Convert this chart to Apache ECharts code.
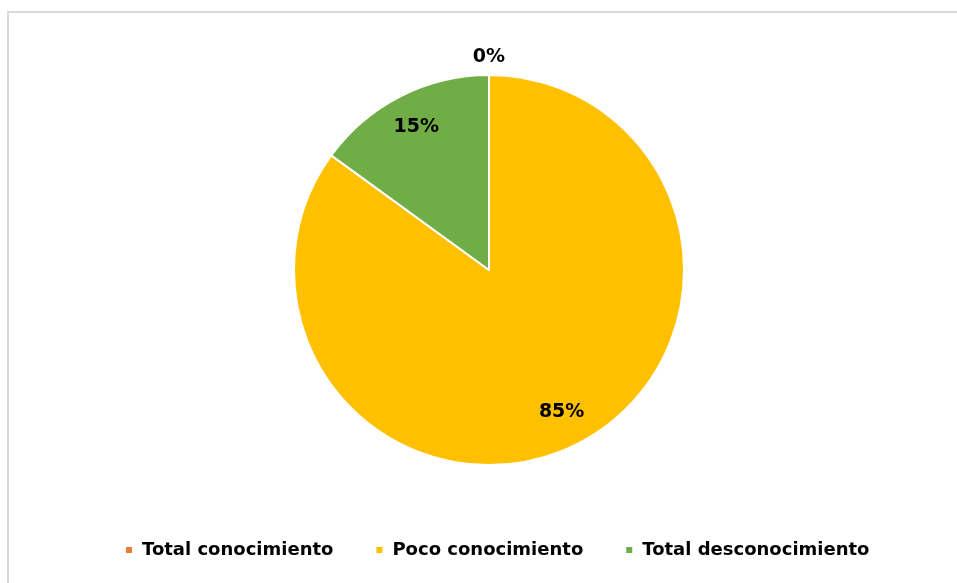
<!DOCTYPE html>
<html>
<head>
<meta charset="utf-8">
<script src="https://cdn.jsdelivr.net/npm/echarts@6/dist/echarts.min.js"></script>
<style>
  html, body { margin: 0; padding: 0; background: #fff; }
  #chart { width: 957px; height: 583px; }
</style>
</head>
<body>
<div id="chart"></div>
<script>
// Nivel de conocimiento (porcentajes)
const categories = ['Total conocimiento', 'Poco conocimiento', 'Total desconocimiento'];
const values = [0, 85, 15];
const colors = ['#ED7D31', '#FFC000', '#70AD47'];

const FONT = '"DejaVu Sans", "Liberation Sans", sans-serif';
const pieData = categories.map((name, i) => ({ name, value: values[i], itemStyle: { color: colors[i] } }));

const labelStyle = {
  show: true,
  position: 'inside',
  formatter: '{c}%',
  color: '#000',
  fontFamily: FONT,
  fontWeight: 'bold',
  fontSize: 19
};

const center = [489, 270];

const chart = echarts.init(document.getElementById('chart'), null, { renderer: 'canvas' });
chart.setOption({
  backgroundColor: '#fff',
  animation: false,
  graphic: [{
    type: 'rect',
    shape: { x: 8, y: 12, width: 1000, height: 1000 },
    style: { fill: 'none', stroke: '#d9d9d9', lineWidth: 2 },
    silent: true
  }],
  legend: {
    data: categories,
    bottom: 19,
    left: 119,
    icon: 'rect',
    itemWidth: 8,
    itemHeight: 8,
    itemGap: 41,
    textStyle: { color: '#000', fontFamily: FONT, fontWeight: 'bold', fontSize: 18, padding: [0, 0, 0, 4] }
  },
  series: [
    {
      // sectores
      type: 'pie',
      center,
      radius: 195,
      startAngle: 90,
      clockwise: true,
      data: pieData,
      itemStyle: { borderColor: '#fff', borderWidth: 2 },
      label: { show: false },
      labelLine: { show: false },
      emphasis: { disabled: true }
    },
    {
      // etiquetas de los sectores con valor
      type: 'pie',
      center,
      radius: [0, 314],
      startAngle: 90,
      clockwise: true,
      silent: true,
      data: categories.map((name, i) => ({
        name, value: values[i],
        itemStyle: { color: 'transparent' },
        label: { show: values[i] > 0 }
      })),
      label: labelStyle,
      labelLine: { show: false },
      emphasis: { disabled: true }
    },
    {
      // etiqueta exterior del sector vacío
      type: 'pie',
      center,
      radius: [0, 420],
      startAngle: 90,
      clockwise: true,
      silent: true,
      data: categories.map((name, i) => ({
        name, value: values[i],
        itemStyle: { color: 'transparent' },
        label: { show: values[i] === 0 }
      })),
      label: labelStyle,
      labelLine: { show: false },
      emphasis: { disabled: true }
    }
  ]
});
</script>
</body>
</html>
